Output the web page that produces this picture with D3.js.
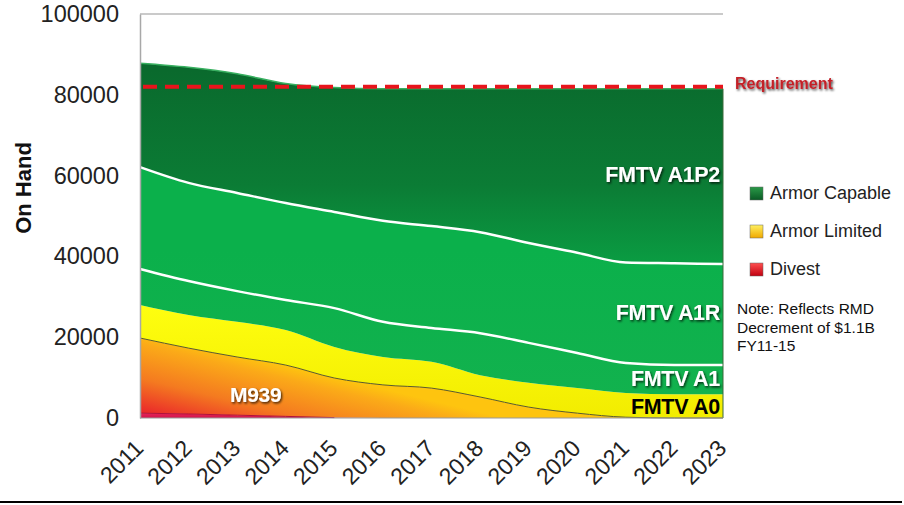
<!DOCTYPE html>
<html>
<head>
<meta charset="utf-8">
<script src="https://cdn.jsdelivr.net/npm/d3@7"></script>
<style>
  body { margin: 0; background: #fff; }
  svg { font-family: Arial, "Liberation Sans", sans-serif; }
</style>
</head>
<body>
<div id="chart"></div>
<script>
// data
var years = [2011, 2012, 2013, 2014, 2015, 2016, 2017, 2018, 2019, 2020, 2021, 2022, 2023];
var divest = [1200, 1000, 700, 400, 100, 0, 0, 0, 0, 0, 0, 0, 0];
var m939 = [18600, 16300, 14400, 12700, 9800, 8200, 7400, 5200, 2700, 1200, 200, 0, 0];
var fmtvA0 = [8200, 8200, 8700, 8700, 7700, 6900, 6500, 5400, 6000, 6200, 6000, 5900, 5900];
var fmtvA1 = [8900, 8400, 7600, 7400, 9600, 8700, 8400, 10400, 9900, 8700, 7400, 7200, 7200];
var fmtvA1R = [25200, 24300, 24300, 24000, 23800, 25000, 25200, 25000, 24700, 24800, 24900, 25200, 25000];
var fmtvA1P2 = [25700, 28600, 29500, 29600, 30800, 32700, 34000, 35500, 38200, 40600, 43000, 43200, 43400];
var requirement = 82000;
var yTicks = [0, 20000, 40000, 60000, 80000, 100000];
var seriesKeys = ["Divest", "M939", "FMTV A0", "FMTV A1", "FMTV A1R", "FMTV A1P2"];
var legendItems = ["Armor Capable", "Armor Limited", "Divest"];
var noteLines = ["Note: Reflects RMD", "Decrement of $1.1B", "FY11-15"];

var svgWidth = 904;
var svgHeight = 505;

var svg = d3.select("#chart")
    .append("svg")
    .attr("width", svgWidth)
    .attr("height", svgHeight);

var defs = svg.append("defs");

function grad(id, x1, y1, x2, y2, stops) {
    var g = defs.append("linearGradient")
        .attr("id", id)
        .attr("gradientUnits", "userSpaceOnUse")
        .attr("x1", x1).attr("y1", y1).attr("x2", x2).attr("y2", y2);
    stops.forEach(function (s) {
        g.append("stop").attr("offset", s[0]).attr("stop-color", s[1]);
    });
}

grad("gA1P2", 0, 70, 0, 280, [[0, "#0a6a2d"], [0.55, "#0b7c35"], [1, "#0aa345"]]);
grad("gA1", 0, 250, 0, 400, [[0, "#0bb04b"], [1, "#12b24e"]]);
grad("gA0", 0, 300, 0, 418, [[0, "#ffff10"], [1, "#f2ec00"]]);
grad("gM939", 140, 418, 160, 335, [[0, "#e8192c"], [0.45, "#f47a20"], [0.85, "#fbaa18"], [1, "#fec40f"]]);
grad("gDivest", 0, 412, 0, 418, [[0, "#e8285c"], [1, "#d3144a"]]);
// legend swatches
grad("lgGreen", 0, 0, 0, 13, [[0, "#2a9a48"], [1, "#0a5a25"]]);
grad("lgYellow", 0, 0, 0, 13, [[0, "#fff060"], [1, "#f0a800"]]);
grad("lgRed", 0, 0, 0, 13, [[0, "#ff5050"], [1, "#c00010"]]);

var shadow = defs.append("filter").attr("id", "shadow")
    .attr("x", "-10%").attr("y", "-20%").attr("width", "130%").attr("height", "150%");
shadow.append("feDropShadow")
    .attr("dx", 1.2).attr("dy", 1.5).attr("stdDeviation", 0.8)
    .attr("flood-color", "#000").attr("flood-opacity", 0.75);

var x = d3.scaleLinear().domain([2011, 2023]).range([140, 723]);
var y = d3.scaleLinear().domain([0, 100000]).range([418, 14]);

var table = years.map(function (yr, i) {
    return {
        year: yr,
        "Divest": divest[i],
        "M939": m939[i],
        "FMTV A0": fmtvA0[i],
        "FMTV A1": fmtvA1[i],
        "FMTV A1R": fmtvA1R[i],
        "FMTV A1P2": fmtvA1P2[i]
    };
});

var stacked = d3.stack().keys(seriesKeys)(table);
var fills = {
    "Divest": "url(#gDivest)",
    "M939": "url(#gM939)",
    "FMTV A0": "url(#gA0)",
    "FMTV A1": "url(#gA1)",
    "FMTV A1R": "url(#gA1)",
    "FMTV A1P2": "url(#gA1P2)"
};

var curve = d3.curveMonotoneX;

var area = d3.area()
    .curve(curve)
    .x(function (d) { return x(d.data.year); })
    .y0(function (d) { return y(d[0]); })
    .y1(function (d) { return y(d[1]); });

var topLine = d3.line()
    .curve(curve)
    .x(function (d) { return x(d.data.year); })
    .y(function (d) { return y(d[1]); });

// frame
svg.append("line")
    .attr("x1", 140).attr("x2", 723).attr("y1", y(100000)).attr("y2", y(100000))
    .attr("stroke", "#b8b8b8").attr("stroke-width", 1.3);

// areas
svg.selectAll(".layer")
    .data(stacked)
    .enter()
    .append("path")
    .attr("class", "layer")
    .attr("d", area)
    .attr("fill", function (d) { return fills[d.key]; });

// boundary lines
var lineStyles = {
    "Divest": ["#b0103a", 1],
    "M939": ["#5a5a2a", 1],
    "FMTV A1": ["#ffffff", 2.5],
    "FMTV A1R": ["#ffffff", 2.5],
    "FMTV A1P2": ["#38b060", 1.5]
};
stacked.forEach(function (s) {
    var st = lineStyles[s.key];
    if (!st) return;
    var pts = s.filter(function (d) { return d[1] - d[0] > 0; });
    svg.append("path")
        .attr("d", topLine(s.key === "Divest" ? pts : s))
        .attr("fill", "none")
        .attr("stroke", st[0])
        .attr("stroke-width", st[1]);
});

// right edge of the areas
svg.append("line")
    .attr("x1", 723).attr("x2", 723)
    .attr("y1", y(d3.sum(seriesKeys, function (k) { return table[12][k]; })))
    .attr("y2", y(0))
    .attr("stroke", "#3a6a3a").attr("stroke-width", 1);

// axes
var leftAxis = d3.axisLeft(y).tickValues(yTicks).tickSize(0).tickPadding(21)
    .tickFormat(d3.format("d"));
var yAxisG = svg.append("g")
    .attr("transform", "translate(140,0)")
    .call(leftAxis);
yAxisG.select(".domain").attr("stroke", "#a8a8a8").attr("stroke-width", 1.5);
yAxisG.selectAll("text")
    .attr("font-size", "23.5px")
    .attr("font-family", "Arial, 'Liberation Sans', sans-serif")
    .attr("fill", "#222");

svg.append("line")
    .attr("x1", 140).attr("x2", 723).attr("y1", y(0)).attr("y2", y(0))
    .attr("stroke", "#9a9a9a").attr("stroke-width", 1.2);

svg.selectAll(".xlab")
    .data(years)
    .enter()
    .append("text")
    .attr("class", "xlab")
    .attr("transform", function (d) { return "translate(" + (x(d) - 1) + ",444) rotate(-45)"; })
    .attr("text-anchor", "end")
    .attr("dy", "0.35em")
    .attr("font-size", "23px")
    .attr("fill", "#222")
    .text(function (d) { return d; });

svg.append("text")
    .attr("transform", "translate(31,188) rotate(-90)")
    .attr("text-anchor", "middle")
    .attr("font-size", "22px")
    .attr("font-weight", "bold")
    .attr("fill", "#111")
    .text("On Hand");

// requirement
svg.append("line")
    .attr("x1", 143).attr("x2", 723)
    .attr("y1", y(requirement)).attr("y2", y(requirement))
    .attr("stroke", "#e8141c")
    .attr("stroke-width", 4)
    .attr("stroke-dasharray", "14,8");

svg.append("text")
    .attr("x", 735).attr("y", 89)
    .attr("font-size", "16px")
    .attr("font-weight", "bold")
    .attr("fill", "#c0141c")
    .attr("filter", "url(#shadow)")
    .style("opacity", 0.95)
    .text("Requirement");

// series labels
var labels = [
    { t: "FMTV A1P2", y: 182, c: "#fff" },
    { t: "FMTV A1R", y: 320, c: "#fff" },
    { t: "FMTV A1", y: 386, c: "#fff" },
    { t: "FMTV A0", y: 414, c: "#000" }
];
labels.forEach(function (l) {
    svg.append("text")
        .attr("x", 720).attr("y", l.y)
        .attr("text-anchor", "end")
        .attr("font-size", "21.5px")
        .attr("font-weight", "bold")
        .attr("letter-spacing", "-0.3px")
        .attr("fill", l.c)
        .attr("filter", l.c === "#fff" ? "url(#shadow)" : null)
        .text(l.t);
});

svg.append("text")
    .attr("x", 230).attr("y", 402)
    .attr("font-size", "21px")
    .attr("font-weight", "bold")
    .attr("letter-spacing", "-0.3px")
    .attr("fill", "#fff")
    .attr("filter", "url(#shadow)")
    .text("M939");

// legend
var legendColors = ["url(#lgGreen)", "url(#lgYellow)", "url(#lgRed)"];
var legend = svg.selectAll(".legend")
    .data(legendItems)
    .enter()
    .append("g")
    .attr("class", "legend")
    .attr("transform", function (d, i) { return "translate(750," + (187 + i * 38) + ")"; });

legend.append("rect")
    .attr("width", 13).attr("height", 13)
    .attr("fill", function (d, i) { return legendColors[i]; })
    .attr("stroke", "#666").attr("stroke-width", 0.5);

legend.append("text")
    .attr("x", 20).attr("y", 12)
    .attr("font-size", "18px")
    .attr("fill", "#222")
    .text(function (d) { return d; });

svg.selectAll(".note")
    .data(noteLines)
    .enter()
    .append("text")
    .attr("class", "note")
    .attr("x", 737)
    .attr("y", function (d, i) { return 314 + i * 18.5; })
    .attr("font-size", "15.5px")
    .attr("fill", "#111")
    .text(function (d) { return d; });

// slide divider at the bottom
svg.append("line")
    .attr("x1", 0).attr("x2", 902).attr("y1", 502).attr("y2", 502)
    .attr("stroke", "#000").attr("stroke-width", 2);
</script>
</body>
</html>
